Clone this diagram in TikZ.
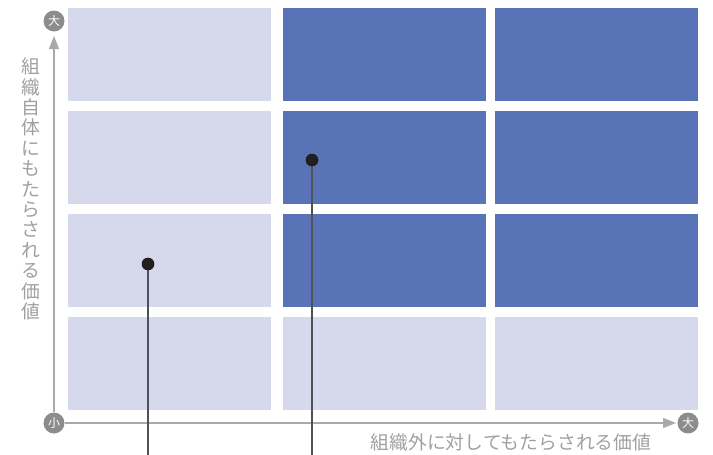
\documentclass[tikz,border=0pt]{standalone}
\usepackage{fontspec}
\newfontfamily\jp{Noto Sans CJK JP}
\usetikzlibrary{arrows.meta}
\definecolor{lightcell}{RGB}{214,216,236}
\definecolor{darkcell}{RGB}{89,115,183}
\definecolor{axisgray}{RGB}{170,170,170}
\definecolor{circgray}{RGB}{140,140,140}
\definecolor{labelgray}{RGB}{160,160,160}
\definecolor{dotcol}{RGB}{35,31,32}
\definecolor{stemcol}{RGB}{80,80,85}
\begin{document}
\begin{tikzpicture}[x=1pt,y=-1pt,
  light/.style={fill=lightcell,draw=none},
  dark/.style={fill=darkcell,draw=none},
  axisline/.style={draw=axisgray,line width=1.2pt},
  endcirc/.style={circle,fill=circgray,minimum size=21pt,inner sep=0pt,text=white,font=\jp\fontsize{12}{12}\selectfont},
  axlabel/.style={text=labelgray,font=\jp\fontsize{18.8}{20.4}\selectfont,inner sep=0pt},
  dotn/.style={circle,fill=dotcol,minimum size=12.5pt,inner sep=0pt},
  stem/.style={draw=stemcol,line width=1.1pt}]
\useasboundingbox (0,0) rectangle (713,455);
% cells
\foreach \c/\xa in {1/68,2/283,3/495}{
  \foreach \r/\ya in {1/8,2/111,3/214,4/317}{
    \pgfmathtruncatemacro{\isdark}{(\c>1)&&(\r<4)}
    \ifnum\isdark=1
      \fill[dark] (\xa,\ya) rectangle ++(203,93);
    \else
      \fill[light] (\xa,\ya) rectangle ++(203,93);
    \fi
  }
}
% axes
\node[endcirc] (origin) at (54,423) {小};
\node[endcirc] (ytop) at (54,21) {大};
\node[endcirc] (xright) at (688,423) {大};
\coordinate (ytip) at (54,36);
\coordinate (xtip) at (676,423);
\draw[axisline,-{Triangle[length=13pt,width=10pt]}] (origin.north) -- (ytip);
\draw[axisline,-{Triangle[length=13pt,width=10pt]}] (origin.east) -- (xtip);
% labels
\node[axlabel,anchor=center] (xlabel) at (511,442) {組織外に対してもたらされる価値};
\node[axlabel,align=center,anchor=center] (ylabel) at (31,189) {組\\織\\自\\体\\に\\も\\た\\ら\\さ\\れ\\る\\価\\値};
% points
\node[dotn] (p1) at (148,264) {};
\node[dotn] (p2) at (312,160) {};
\coordinate (p1b) at (148,455);
\coordinate (p2b) at (312,455);
\draw[stem] (p1.center) -- (p1b);
\draw[stem] (p2.center) -- (p2b);
\node[dotn] at (p1) {};
\node[dotn] at (p2) {};
\end{tikzpicture}
\end{document}
